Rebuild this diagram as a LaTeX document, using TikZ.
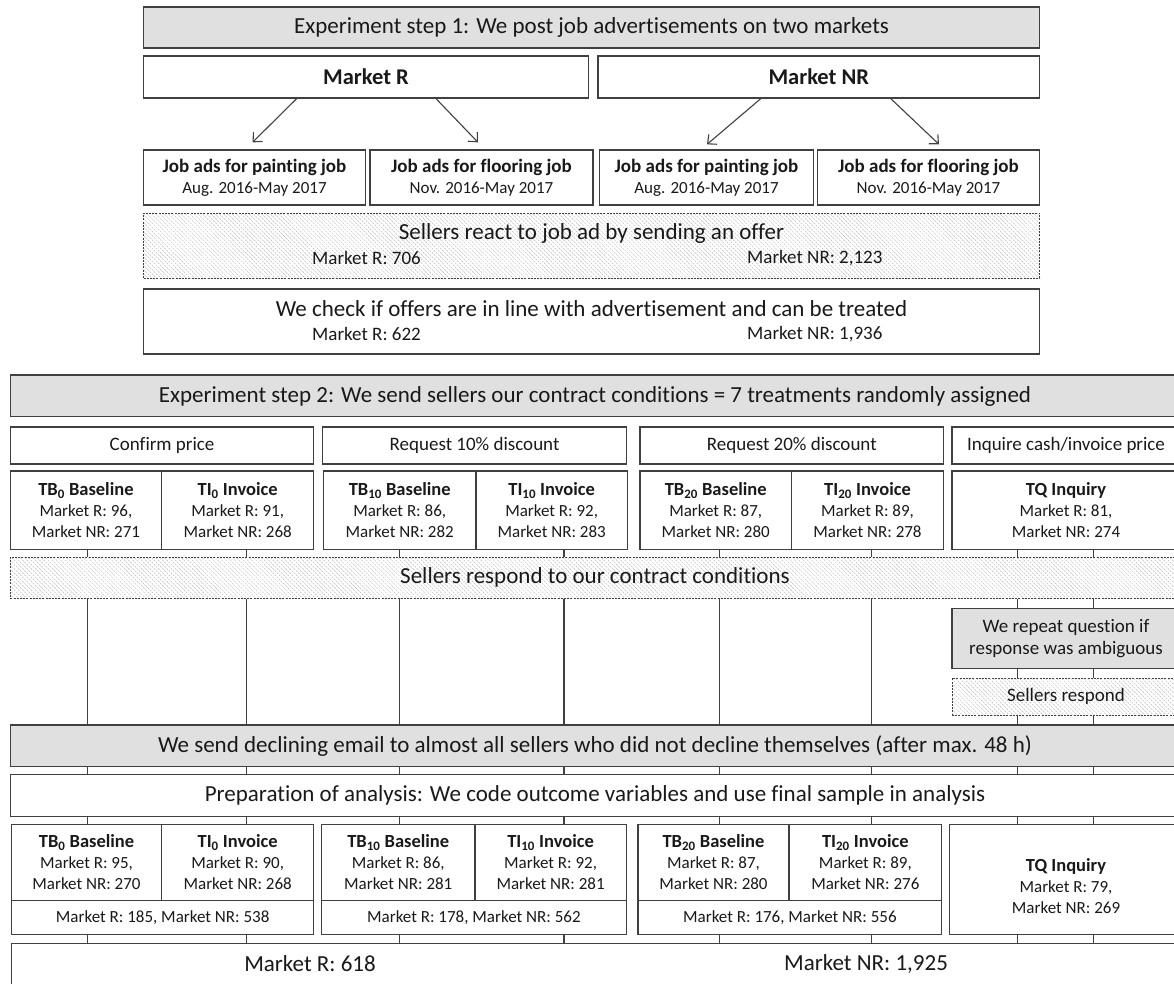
\documentclass[tikz,border=0pt]{standalone}
\usepackage{fontspec}
\setmainfont{Carlito}[Ligatures=NoCommon]
\usetikzlibrary{arrows.meta,patterns.meta,fit}
\definecolor{ln}{RGB}{64,64,64}
\definecolor{gfill}{RGB}{224,224,224}
\definecolor{tx}{RGB}{25,25,25}
\definecolor{hatchc}{RGB}{185,185,185}
\tikzset{
  box/.style={draw=ln, line width=1.3pt, rectangle, inner sep=0pt},
  graybox/.style={box, fill=gfill},
  hatchbox/.style={box, line width=1pt, dash pattern=on 2pt off 1.2pt,
     pattern={Lines[angle=-45,distance=3pt,line width=0.45pt]}, pattern color=hatchc},
  conn/.style={draw=ln, line width=1.2pt},
  arr/.style={draw=ln, line width=1.1pt, -{Straight Barb[length=7pt,width=13pt]}},
  lbl/.style={text=tx, inner sep=0pt, align=center},
  big/.style={lbl, font=\fontsize{23}{27}\selectfont},
  bigb/.style={lbl, font=\fontsize{22.5}{27}\selectfont\bfseries},
  med/.style={lbl, font=\fontsize{19}{22}\selectfont},
  sm/.style={lbl, font=\fontsize{17}{21}\selectfont},
}
\newcommand{\trt}[3]{{\fontsize{18.5}{21}\selectfont\bfseries #1}\\Market R: #2,\\Market NR: #3}
\newcommand{\jobad}[2]{{\fontsize{19}{22}\selectfont\bfseries #1}\\#2}
\begin{document}
\begin{tikzpicture}[x=1pt,y=-1pt]
\useasboundingbox (0,0) rectangle (1174,983);
\clip (0,0) rectangle (1174,983);
% ---------- step 1 ----------
\node[graybox, fit={(143.5,7) (1039.5,48)}] (s1) {};
\node[big] at (s1.center) {Experiment step 1: We post job advertisements on two markets};
\node[box, fit={(143.5,56) (588.5,98)}] (mR) {};
\node[bigb] at (mR.center) {Market R};
\node[box, fit={(598,56) (1039.5,98)}] (mNR) {};
\node[bigb] at (mNR.center) {Market NR};
\node[box, fit={(143.5,150) (365.5,205)}] (j1) {};
\node[box, fit={(370,150) (593,205)}] (j2) {};
\node[box, fit={(599.5,150) (813.5,205)}] (j3) {};
\node[box, fit={(817.5,150) (1039.5,205)}] (j4) {};
\node[sm] at (j1.center) {\jobad{Job ads for painting job}{Aug. 2016-May 2017}};
\node[sm] at (j2.center) {\jobad{Job ads for flooring job}{Nov. 2016-May 2017}};
\node[sm] at (j3.center) {\jobad{Job ads for painting job}{Aug. 2016-May 2017}};
\node[sm] at (j4.center) {\jobad{Job ads for flooring job}{Nov. 2016-May 2017}};
\draw[arr] ([xshift=-69.4pt]mR.south) -- ([xshift=-2pt,yshift=7pt]j1.north);
\draw[arr] ([xshift=70pt]mR.south) -- ([xshift=-3.5pt,yshift=7pt]j2.north);
\draw[arr] ([xshift=-58pt]mNR.south) -- ([xshift=0.5pt,yshift=5pt]j3.north);
\draw[arr] ([xshift=72pt]mNR.south) -- ([xshift=10.5pt,yshift=5pt]j4.north);
\node[hatchbox, fit={(143.5,213) (1039.5,278)}] (react) {};
\node[big] (reactT) at (591.5,233) {Sellers react to job ad by sending an offer};
\node[med, anchor=west] (reactR) at (312,258) {Market R: 706};
\node[med, anchor=west] (reactNR) at (747,258) {Market NR: 2,123};
\node[box, fit={(143.5,289) (1039.5,354)}] (check) {};
\node[big] (checkT) at (591.5,309) {We check if offers are in line with advertisement and can be treated};
\node[med, anchor=west] (checkR) at (312,334) {Market R: 622};
\node[med, anchor=west] (checkNR) at (747,334) {Market NR: 1,936};
% ---------- step 2 ----------
\node[graybox, fit={(10.3,375) (1180,416.7)}] (s2) {};
\node[big] at (595,396) {Experiment step 2: We send sellers our contract conditions = 7 treatments randomly assigned};
\node[box, fit={(10.3,427) (313.8,464)}] (h1) {};
\node[box, fit={(322.6,427) (626.5,464)}] (h2) {};
\node[box, fit={(640,427) (943.6,464)}] (h3) {};
\node[box, fit={(952,427) (1180,464)}] (h4) {};
\node[med] at (h1.center) {Confirm price};
\node[med] at (h2.center) {Request 10\% discount};
\node[med] at (h3.center) {Request 20\% discount};
\node[med] at (1066,445.5) {Inquire cash/invoice price};
\node[box, fit={(10.3,471) (161.5,549.3)}] (t1) {};
\node[box, fit={(161.5,471) (313.8,549.3)}] (t2) {};
\node[box, fit={(323.4,471) (476,549.3)}] (t3) {};
\node[box, fit={(476,471) (627.3,549.3)}] (t4) {};
\node[box, fit={(640,471) (791.4,549.3)}] (t5) {};
\node[box, fit={(791.4,471) (943.6,549.3)}] (t6) {};
\node[box, fit={(952,471) (1180,549.3)}] (t7) {};
\node[sm] at (t1.center) {\trt{TB\textsubscript{0} Baseline}{96}{271}};
\node[sm] at (t2.center) {\trt{TI\textsubscript{0} Invoice}{91}{268}};
\node[sm] at (t3.center) {\trt{TB\textsubscript{10} Baseline}{86}{282}};
\node[sm] at (t4.center) {\trt{TI\textsubscript{10} Invoice}{92}{283}};
\node[sm] at (t5.center) {\trt{TB\textsubscript{20} Baseline}{87}{280}};
\node[sm] at (t6.center) {\trt{TI\textsubscript{20} Invoice}{89}{278}};
\node[sm] at (1066,510.2) {\trt{TQ Inquiry}{81}{274}};
\node[hatchbox, fit={(10.3,557) (1180,598.7)}] (resp) {};
\node[big] at (595,577.8) {Sellers respond to our contract conditions};
\node[graybox, fit={(952,608.3) (1180,668.3)}] (rep) {};
\node[med] at (1066,638.3) {We repeat question if\\response was ambiguous};
\node[hatchbox, fit={(952,678.3) (1180,715)}] (resp2) {};
\node[med] at (1066,696.6) {Sellers respond};
\node[graybox, fit={(10.3,725) (1180,766.7)}] (decl) {};
\node[big] at (595,745.8) {We send declining email to almost all sellers who did not decline themselves (after max. 48 h)};
\node[box, fit={(10.3,774.3) (1180,816.7)}] (prep) {};
\node[big] at (595,795.5) {Preparation of analysis: We code outcome variables and use final sample in analysis};
% ---------- final groups ----------
\node[box, fit={(11.5,824.3) (313.8,934.3)}] (g1) {};
\node[box, fit={(11.5,824.3) (161.5,900.3)}] (f1) {};
\node[box, fit={(161.5,824.3) (313.8,900.3)}] (f2) {};
\node[box, fit={(11.5,900.3) (313.8,934.3)}] (tot1) {};
\node[box, fit={(321.5,824.3) (626.2,934.3)}] (g2) {};
\node[box, fit={(321.5,824.3) (475,900.3)}] (f3) {};
\node[box, fit={(475,824.3) (626.2,900.3)}] (f4) {};
\node[box, fit={(321.5,900.3) (626.2,934.3)}] (tot2) {};
\node[box, fit={(638,824.3) (941.7,934.3)}] (g3) {};
\node[box, fit={(638,824.3) (789,900.3)}] (f5) {};
\node[box, fit={(789,824.3) (941.7,900.3)}] (f6) {};
\node[box, fit={(638,900.3) (941.7,934.3)}] (tot3) {};
\node[box, fit={(949.3,824.3) (1180,934.3)}] (g4) {};
\node[sm] at (f1.center) {\trt{TB\textsubscript{0} Baseline}{95}{270}};
\node[sm] at (f2.center) {\trt{TI\textsubscript{0} Invoice}{90}{268}};
\node[sm] at (tot1.center) {Market R: 185, Market NR: 538};
\node[sm] at (f3.center) {\trt{TB\textsubscript{10} Baseline}{86}{281}};
\node[sm] at (f4.center) {\trt{TI\textsubscript{10} Invoice}{92}{281}};
\node[sm] at (tot2.center) {Market R: 178, Market NR: 562};
\node[sm] at (f5.center) {\trt{TB\textsubscript{20} Baseline}{87}{280}};
\node[sm] at (f6.center) {\trt{TI\textsubscript{20} Invoice}{89}{276}};
\node[sm] at (tot3.center) {Market R: 176, Market NR: 556};
\node[sm] at (1066,886.5) {\trt{TQ Inquiry}{79}{269}};
\node[box, fit={(11.5,943.3) (1180,1000)}] (fin) {};
\node[big] at (310,964) {Market R: 618};
\node[big] at (866,964) {Market NR: 1,925};
% ---------- column connectors ----------
\foreach \i/\x in {1/87.3,2/246.5,3/399.5,4/564,5/719.8,6/871.7,7/1017.5,8/1093.6}
  \coordinate (c\i) at (\x,0);
\foreach \i/\t/\g in {1/t1/g1,2/t2/g1,3/t3/g2,4/t4/g2,5/t5/g3,6/t6/g3,7/t7/g4,8/t7/g4}{
  \draw[conn] (c\i |- \t.south) -- (c\i |- resp.north);
  \draw[conn] (c\i |- decl.south) -- (c\i |- prep.north);
  \draw[conn] (c\i |- prep.south) -- (c\i |- \g.north);
  \draw[conn] (c\i |- \g.south) -- (c\i |- fin.north);
}
\foreach \i in {1,...,6}
  \draw[conn] (c\i |- resp.south) -- (c\i |- decl.north);
\foreach \i in {7,8}{
  \draw[conn] (c\i |- resp.south) -- (c\i |- rep.north);
  \draw[conn] (c\i |- rep.south) -- (c\i |- resp2.north);
  \draw[conn] (c\i |- resp2.south) -- (c\i |- decl.north);
}
\end{tikzpicture}
\end{document}
